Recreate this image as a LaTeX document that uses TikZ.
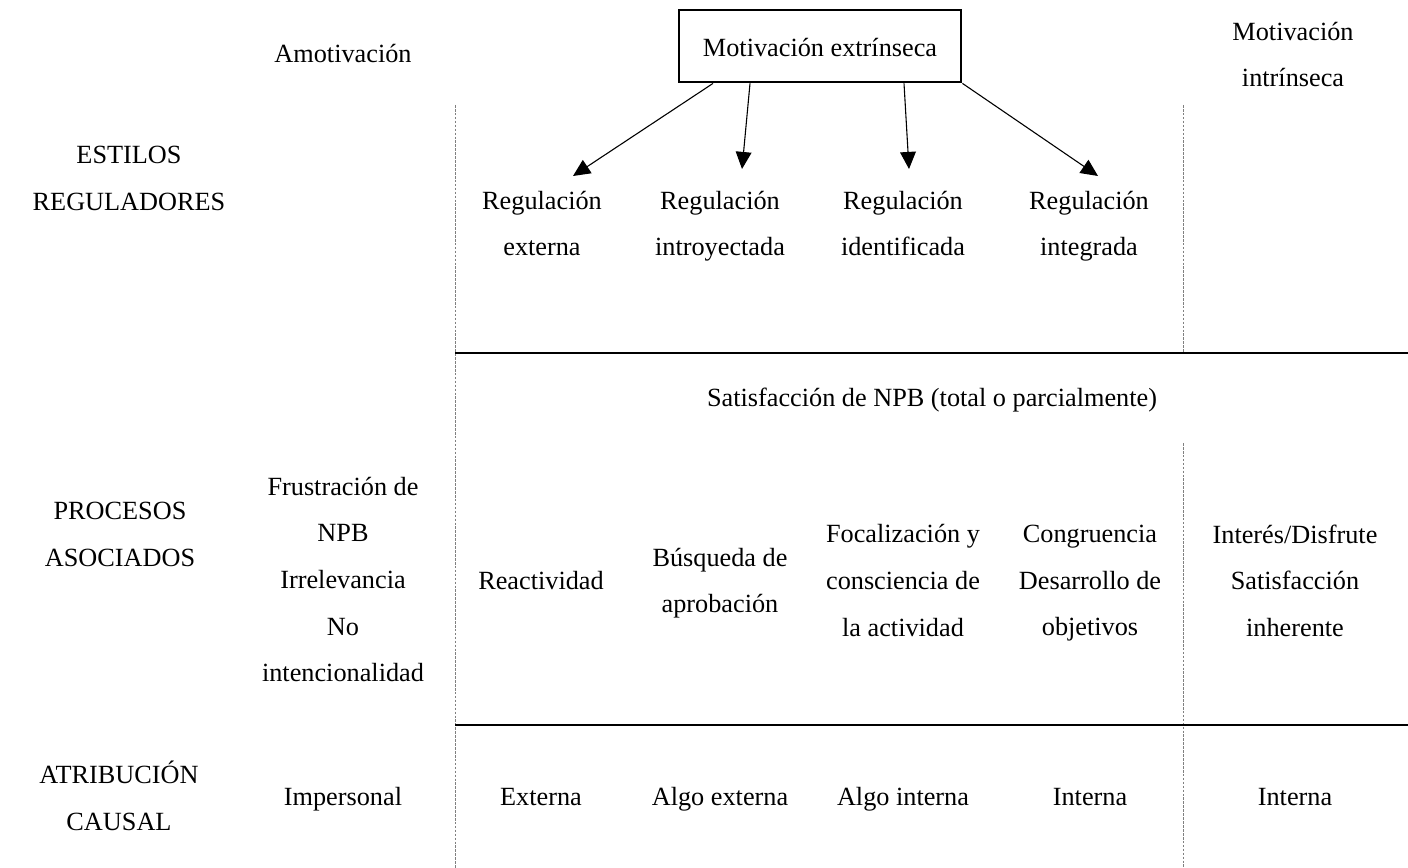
\documentclass[tikz,border=0pt]{standalone}
\usepackage{fontspec}
\setmainfont{Liberation Serif}
\usetikzlibrary{arrows.meta, positioning, calc}

\newcommand{\cellstrut}{\rule[-7.8pt]{0pt}{21pt}}

\begin{document}
\begin{tikzpicture}[
            x=0.457pt, y=-0.457pt,
            cell/.style={align=center, inner sep=0pt, font=\fontsize{12pt}{21.3pt}\selectfont,
                execute at begin node=\cellstrut, execute at end node=\cellstrut},
            box/.style={cell, draw, line width=1.2pt, minimum width=129pt, minimum height=33pt,
                text height=10pt, text depth=0pt},
            arrow/.style={-{Triangle[length=7.8pt, width=7.2pt]}, line width=0.5pt},
            divider/.style={line width=1.1pt},
            dotline/.style={dash pattern=on 1.2pt off 0.6pt, gray, line width=0.4pt}
        ]
        \useasboundingbox (0,0) rectangle (1408,868);

        % Column headers
        \node[cell] (amot) at (343,57) {Amotivación};
        \node[box] (mext) at (820,46) {Motivación extrínseca};
        \node[cell] (mint) at (1293,63) {Motivación\\intrínseca};

        % Row headers
        \node[cell] (estilos) at (129,187) {ESTILOS\\REGULADORES};
        \node[cell] (procesos) at (120,543) {PROCESOS\\ASOCIADOS};
        \node[cell] (atrib) at (119,804) {ATRIBUCIÓN\\CAUSAL};

        % Regulatory styles
        \node[cell] (rext) at (542,232) {Regulación\\externa};
        \node[cell] (rint) at (720,232) {Regulación\\introyectada};
        \node[cell] (rid) at (903,232) {Regulación\\identificada};
        \node[cell] (rinteg) at (1089,232) {Regulación\\integrada};

        % Associated processes
        \node[cell] (satis) at (932,401) {Satisfacción de NPB (total o parcialmente)};
        \node[cell] (frus) at (343,588) {Frustración de\\NPB\\Irrelevancia\\No\\intencionalidad};
        \node[cell] (react) at (541,584) {Reactividad};
        \node[cell] (busq) at (720,589) {Búsqueda de\\aprobación};
        \node[cell] (focal) at (903,589) {Focalización y\\consciencia de\\la actividad};
        \node[cell] (congr) at (1090,589) {Congruencia\\Desarrollo de\\objetivos};
        \node[cell] (inter) at (1295,589) {Interés/Disfrute\\Satisfacción\\inherente};

        % Causal attribution
        \node[cell] (imper) at (343,800) {Impersonal};
        \node[cell] (aext) at (541,800) {Externa};
        \node[cell] (aaext) at (720,800) {Algo externa};
        \node[cell] (aaint) at (903,800) {Algo interna};
        \node[cell] (aint) at (1090,800) {Interna};
        \node[cell] (aint2) at (1295,800) {Interna};

        % Arrows
        \coordinate (s1) at ($(mext.south)+(-107,0)$);
        \coordinate (s2) at ($(mext.south)+(-70,0)$);
        \coordinate (s3) at ($(mext.south)+(84,0)$);
        \coordinate (t1) at (573,176);
        \coordinate (t2) at (742,169);
        \coordinate (t3) at (909,169);
        \coordinate (t4) at (1098,176);

        \draw[arrow] (s1) -- (t1);
        \draw[arrow] (s2) -- (t2);
        \draw[arrow] (s3) -- (t3);
        \draw[arrow] (mext.south east) -- (t4);

        % Grid
        \coordinate (la) at (455,105);
        \coordinate (lb) at (455,868);
        \coordinate (ra) at (1183,105);
        \coordinate (rb) at (1183,353);
        \coordinate (rc) at (1183,443);
        \coordinate (rd) at (1183,868);
        \coordinate (h1a) at (455,353);
        \coordinate (h1b) at (1408,353);
        \coordinate (h2a) at (455,725);
        \coordinate (h2b) at (1408,725);

        \draw[dotline] (la) -- (lb);
        \draw[dotline] (ra) -- (rb);
        \draw[dotline] (rc) -- (rd);

        \draw[divider] (h1a) -- (h1b);
        \draw[divider] (h2a) -- (h2b);

    \end{tikzpicture}
\end{document}
